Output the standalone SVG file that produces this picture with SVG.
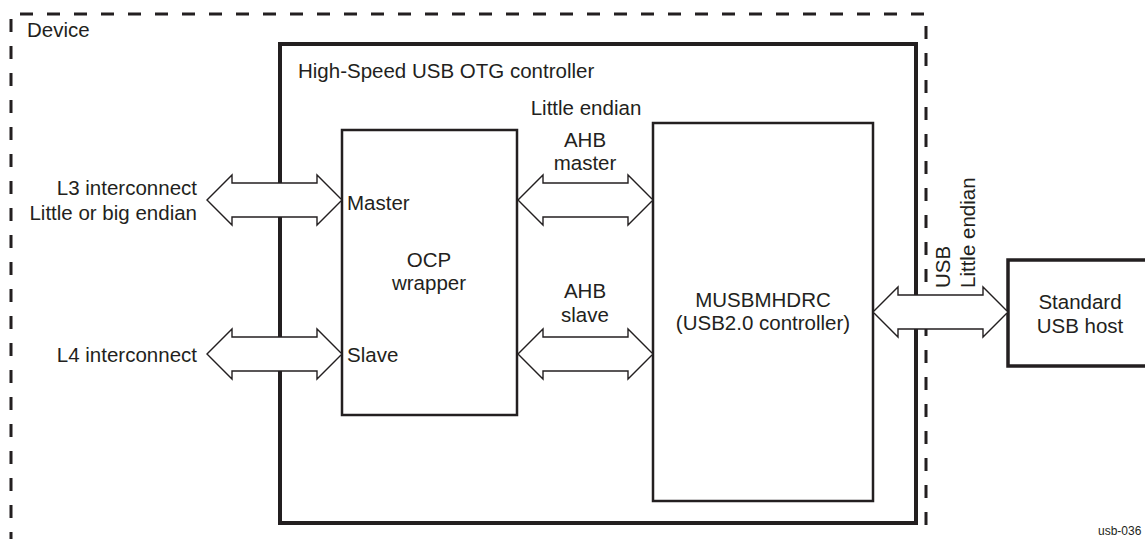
<svg xmlns="http://www.w3.org/2000/svg" width="1145" height="539" viewBox="0 0 1145 539">
<style>
text{font-family:"Liberation Sans",Arial,sans-serif;font-size:20.5px;fill:#231f20}
.c{text-anchor:middle}
.r{text-anchor:end}
.box{fill:#fff;stroke:#231f20}
.arr{fill:#fff;stroke:#231f20;stroke-width:1.4;stroke-linejoin:miter}
</style>
<rect width="1145" height="539" fill="#fff"/>
<g id="device">
<path d="M11,545 V14 H926 V545" fill="none" stroke="#231f20" stroke-width="3" stroke-dasharray="13 14"/>
<text x="27" y="37">Device</text>
</g>
<g id="controller">
<rect class="box" x="280" y="44" width="636" height="479" stroke-width="4"/>
<text x="298" y="78">High-Speed USB OTG controller</text>
<text class="c" x="586" y="115">Little endian</text>
</g>
<g id="ocp">
<rect class="box" x="342" y="130" width="175" height="285" stroke-width="2.5"/>
<text x="347" y="210">Master</text>
<text class="c" x="429" y="267">OCP</text>
<text class="c" x="429" y="290">wrapper</text>
<text x="347" y="362">Slave</text>
</g>
<g id="musb">
<rect class="box" x="653" y="123" width="220" height="378" stroke-width="2.5"/>
<text class="c" x="763" y="307">MUSBMHDRC</text>
<text class="c" x="763" y="330">(USB2.0 controller)</text>
</g>
<g id="host">
<rect class="box" x="1008" y="260" width="140" height="106" stroke-width="3.5"/>
<text class="c" x="1080" y="309">Standard</text>
<text class="c" x="1080" y="333">USB host</text>
</g>
<g id="connectors">
<polygon class="arr" points="207,200 232,175 232,183 317,183 317,175 342,200 317,225 317,217 232,217 232,225"/>
<polygon class="arr" points="207,354 232,329 232,337 317,337 317,329 342,354 317,379 317,371 232,371 232,379"/>
<polygon class="arr" points="518,200 543,175 543,183 628,183 628,175 653,200 628,225 628,217 543,217 543,225"/>
<polygon class="arr" points="518,354 543,329 543,337 628,337 628,329 653,354 628,379 628,371 543,371 543,379"/>
<polygon class="arr" points="873,312 898,287 898,295 983,295 983,287 1008,312 983,337 983,329 898,329 898,337"/>
</g>
<g id="labels">
<text class="r" x="197" y="195">L3 interconnect</text>
<text class="r" x="197" y="220">Little or big endian</text>
<text class="r" x="197" y="362">L4 interconnect</text>
<text class="c" x="585" y="147">AHB</text>
<text class="c" x="585" y="170">master</text>
<text class="c" x="585" y="298">AHB</text>
<text class="c" x="585" y="322">slave</text>
<text transform="translate(950,288) rotate(-90)">USB</text>
<text transform="translate(975,288) rotate(-90)">Little endian</text>
<text x="1098" y="535" style="font-size:12px">usb-036</text>
</g>
</svg>
